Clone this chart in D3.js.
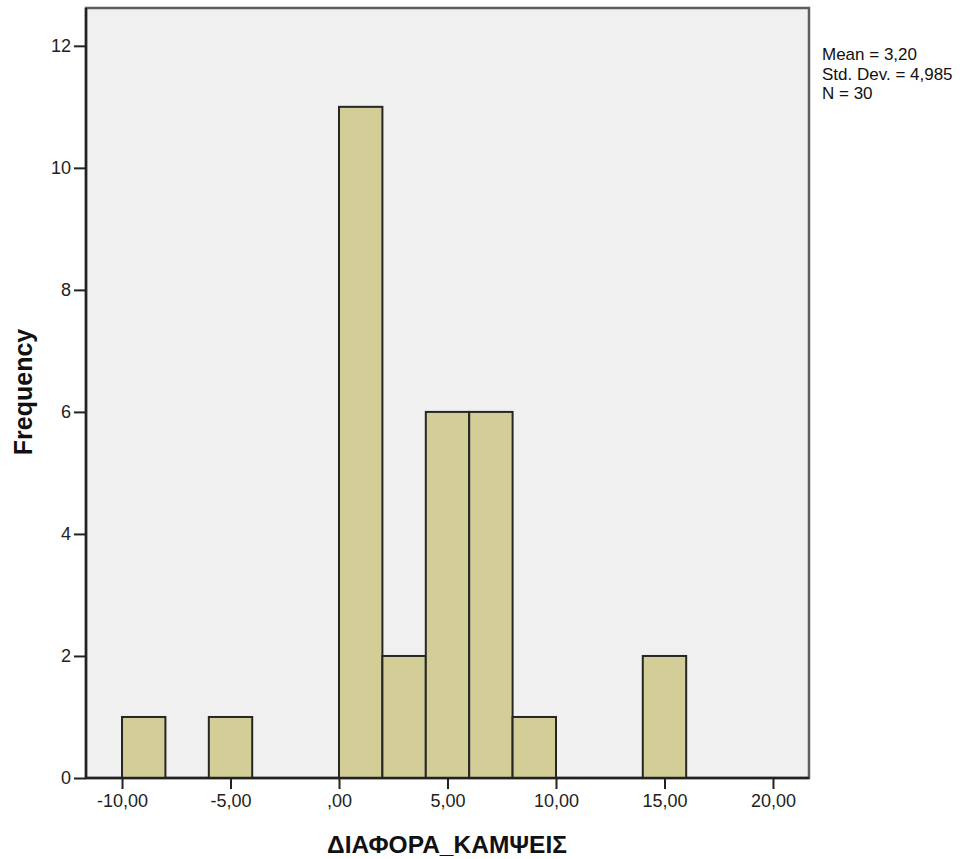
<!DOCTYPE html>
<html>
<head>
<meta charset="utf-8">
<script src="https://cdn.jsdelivr.net/npm/d3@7"></script>
<style>
  body { margin: 0; background: #fff; }
  text { font-family: "Liberation Sans", Arial, sans-serif; }
</style>
</head>
<body>
<div id="chart"></div>
<script>
// histogram bins (lower edge, upper edge) and counts
var binStart = [-10, -6, 0, 2, 4, 6, 8, 14];
var binEnd   = [-8, -4, 2, 4, 6, 8, 10, 16];
var counts   = [1, 1, 11, 2, 6, 6, 1, 2];
var xTicks = [-10, -5, 0, 5, 10, 15, 20];
var xTickLabels = ['-10,00', '-5,00', ',00', '5,00', '10,00', '15,00', '20,00'];
var yTicks = [0, 2, 4, 6, 8, 10, 12];
var statLines = ['Mean = 3,20', 'Std. Dev. = 4,985', 'N = 30'];

var width = 969, height = 859;
var plotL = 86, plotR = 809, plotT = 8, plotB = 778;

var svg = d3.select('#chart').append('svg')
  .attr('width', width)
  .attr('height', height);

var x = d3.scaleLinear().domain([-11.66, 21.66]).range([plotL, plotR]);
var y = d3.scaleLinear().domain([0, 12.62]).range([plotB, plotT]);

// plot background
svg.append('rect')
  .attr('x', plotL).attr('y', plotT)
  .attr('width', plotR - plotL).attr('height', plotB - plotT)
  .attr('fill', '#f0f0f0')
  .attr('stroke', '#5e5e5e').attr('stroke-width', 2.5);

var bars = binStart.map(function(d, i) {
  return { x0: d, x1: binEnd[i], n: counts[i] };
});

svg.selectAll('.bar')
  .data(bars)
  .enter()
  .append('rect')
  .attr('class', 'bar')
  .attr('x', function(d) { return x(d.x0); })
  .attr('y', function(d) { return y(d.n); })
  .attr('width', function(d) { return x(d.x1) - x(d.x0); })
  .attr('height', function(d) { return plotB - y(d.n); })
  .attr('fill', '#d3ce97')
  .attr('stroke', '#262626')
  .attr('stroke-width', 2);

// y axis
var yAxis = d3.axisLeft(y).tickValues(yTicks).tickSize(12).tickPadding(3).tickFormat(d3.format('d'));
var gy = svg.append('g').attr('transform', 'translate(' + plotL + ',0)').call(yAxis);
gy.select('.domain').remove();
gy.selectAll('line').attr('stroke', '#222').attr('stroke-width', 2);
gy.selectAll('text').attr('font-size', 18).attr('fill', '#222')
  .style('font-family', '"Liberation Sans", Arial, sans-serif');

// x axis
var xAxis = d3.axisBottom(x).tickValues(xTicks).tickSize(11).tickPadding(5)
  .tickFormat(function(d, i) { return xTickLabels[i]; });
var gx = svg.append('g').attr('transform', 'translate(0,' + plotB + ')').call(xAxis);
gx.select('.domain').remove();
gx.selectAll('line').attr('stroke', '#222').attr('stroke-width', 2);
gx.selectAll('text').attr('font-size', 18).attr('fill', '#222')
  .style('font-family', '"Liberation Sans", Arial, sans-serif');

// axis lines drawn over
svg.append('line').attr('x1', plotL).attr('x2', plotL).attr('y1', plotT).attr('y2', plotB)
  .attr('stroke', '#222').attr('stroke-width', 2.5);
svg.append('line').attr('x1', plotL).attr('x2', plotR).attr('y1', plotB).attr('y2', plotB)
  .attr('stroke', '#222').attr('stroke-width', 2.5);

// axis titles
svg.append('text')
  .attr('transform', 'translate(32,392) rotate(-90)')
  .attr('text-anchor', 'middle')
  .attr('font-size', 25).attr('font-weight', 'bold').attr('fill', '#111')
  .text('Frequency');

svg.append('text')
  .attr('x', 447).attr('y', 853)
  .attr('text-anchor', 'middle')
  .attr('font-size', 24.5).attr('font-weight', 'bold').attr('fill', '#111')
  .text('ΔΙΑΦΟΡΑ_ΚΑΜΨΕΙΣ');

// stats text
svg.selectAll('.stat')
  .data(statLines)
  .enter()
  .append('text')
  .attr('class', 'stat')
  .attr('x', 822)
  .attr('y', function(d, i) { return 60 + i * 19.5; })
  .attr('font-size', 17).attr('fill', '#111')
  .text(function(d) { return d; });
</script>
</body>
</html>
